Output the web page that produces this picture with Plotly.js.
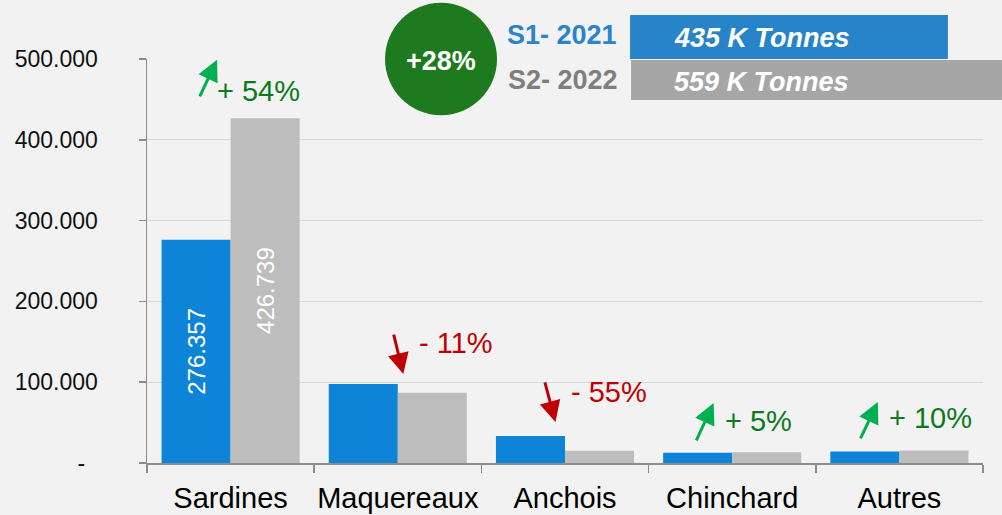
<!DOCTYPE html>
<html>
<head>
<meta charset="utf-8">
<script src="https://cdn.plot.ly/plotly-3.0.1.min.js"></script>
<style>
html,body{margin:0;padding:0;background:#F2F2F2;}
#chart{width:1002px;height:515px;}
</style>
</head>
<body>
<div id="chart"></div>
<script>
// ---- data ----
const categories = ["Sardines", "Maquereaux", "Anchois", "Chinchard", "Autres"];
const s1Name = "S1- 2021";
const s2Name = "S2- 2022";
const s1Values = [276357, 97800, 33500, 12800, 14200];
const s2Values = [426739, 87000, 15100, 13400, 15600];
const s1Labels = ["276.357", "", "", "", ""];
const s2Labels = ["426.739", "", "", "", ""];
const yTickVals = [0, 100000, 200000, 300000, 400000, 500000];
const yTickText = ["-\u00a0\u00a0", "100.000", "200.000", "300.000", "400.000", "500.000"];
const changeLabels = ["+ 54%", "- 11%", "- 55%", "+ 5%", "+ 10%"];
const s1Total = "435 K Tonnes";
const s2Total = "559 K Tonnes";
const totalChange = "+28%";

// ---- styles ----
const FONT = "Liberation Sans, Arial, sans-serif";
const BLUE = "#0E84D8";
const GREY = "#BDBDBD";
const UPGREEN = "#0B7A1A";
const UPARROW = "#00B050";
const DOWNRED = "#C00000";

const traces = [
  {
    type: "bar", name: s1Name, x: categories, y: s1Values,
    marker: {color: BLUE},
    text: s1Labels, textposition: "inside", insidetextanchor: "middle",
    textangle: -90, textfont: {family: FONT, size: 24, color: "#FFFFFF"},
    constraintext: "none", cliponaxis: false, hoverinfo: "skip"
  },
  {
    type: "bar", name: s2Name, x: categories, y: s2Values,
    marker: {color: GREY},
    text: s2Labels, textposition: "inside", insidetextanchor: "middle",
    textangle: -90, textfont: {family: FONT, size: 24, color: "#FFFFFF"},
    constraintext: "none", cliponaxis: false, hoverinfo: "skip"
  }
];

// arrow tip positions (category index offset, y value) and tail offsets in px
const arrowSpecs = [
  {x: -0.081, y: 499000, ax: -18, ay: 38, up: true},
  {x: 1.033, y: 110000, ax: -10, ay: -41, up: false},
  {x: 1.943, y: 50800, ax: -11, ay: -41, up: false},
  {x: 2.889, y: 74300, ax: -18, ay: 39, up: true},
  {x: 3.871, y: 75600, ax: -18, ay: 38, up: true}
];
const labelPos = [
  {x: 0.165, y: 460000},
  {x: 1.350, y: 148700},
  {x: 2.266, y: 88000},
  {x: 3.159, y: 52000},
  {x: 4.183, y: 55800}
];

const annotations = [];
arrowSpecs.forEach((a, i) => {
  annotations.push({
    xref: "x", yref: "y", x: a.x, y: a.y, ax: a.ax, ay: a.ay,
    axref: "pixel", ayref: "pixel",
    text: "", showarrow: true, arrowhead: 2, arrowsize: 1.4, arrowwidth: 3,
    arrowcolor: a.up ? UPARROW : DOWNRED, standoff: 0
  });
  annotations.push({
    xref: "x", yref: "y", x: labelPos[i].x, y: labelPos[i].y,
    text: changeLabels[i], showarrow: false,
    font: {family: FONT, size: 29, color: a.up ? UPGREEN : DOWNRED},
    xanchor: "center", yanchor: "middle"
  });
});

// header legend texts (paper coords)
annotations.push(
  {xref: "paper", yref: "paper", x: 0.3517, y: 0.995, text: "<b>" + totalChange + "</b>",
   showarrow: false, font: {family: FONT, size: 27, color: "#FFFFFF"}, xanchor: "center", yanchor: "middle"},
  {xref: "paper", yref: "paper", x: 0.4964, y: 1.0594, text: "<b>" + s1Name + "</b>",
   showarrow: false, font: {family: FONT, size: 27, color: "#2A84C8"}, xanchor: "center", yanchor: "middle"},
  {xref: "paper", yref: "paper", x: 0.4982, y: 0.948, text: "<b>" + s2Name + "</b>",
   showarrow: false, font: {family: FONT, size: 27, color: "#7F7F7F"}, xanchor: "center", yanchor: "middle"},
  {xref: "paper", yref: "paper", x: 0.7351, y: 1.052, text: "<b><i>" + s1Total + "</i></b>",
   showarrow: false, font: {family: FONT, size: 27, color: "#FFFFFF"}, xanchor: "center", yanchor: "middle"},
  {xref: "paper", yref: "paper", x: 0.7351, y: 0.943, text: "<b><i>" + s2Total + "</i></b>",
   showarrow: false, font: {family: FONT, size: 27, color: "#FFFFFF"}, xanchor: "center", yanchor: "middle"}
);

const shapes = [
  {type: "circle", xref: "paper", yref: "paper", x0: 0.2847, x1: 0.4187, y0: 0.861, y1: 1.139,
   fillcolor: "#1E7A1E", line: {width: 0}, layer: "above"},
  {type: "rect", xref: "paper", yref: "paper", x0: 0.5778, x1: 0.958, y0: 1.0, y1: 1.109,
   fillcolor: "#2784C8", line: {width: 0}, layer: "above"},
  {type: "rect", xref: "paper", yref: "paper", x0: 0.579, x1: 1.0227, y0: 0.8985, y1: 0.9975,
   fillcolor: "#A6A6A6", line: {width: 0}, layer: "above"}
];

const layout = {
  width: 1002, height: 515,
  margin: {l: 147, r: 19, t: 59, b: 52, pad: 0},
  paper_bgcolor: "#F2F2F2", plot_bgcolor: "#F2F2F2",
  barmode: "group", bargap: 0.174, bargroupgap: 0,
  showlegend: false,
  font: {family: FONT, color: "#000000"},
  xaxis: {
    type: "category", showline: true, linecolor: "#8C8C8C", linewidth: 1.5,
    ticks: "outside", tickson: "boundaries", ticklen: 8, tickcolor: "#8C8C8C", tickwidth: 1.5,
    tickangle: 0, ticklabelstandoff: 9,
    tickfont: {family: FONT, size: 29, color: "#000000"}, showgrid: false, fixedrange: true
  },
  yaxis: {
    range: [0, 500000], tickvals: yTickVals, ticktext: yTickText,
    showline: true, linecolor: "#8C8C8C", linewidth: 1.5,
    ticks: "outside", ticklen: 7, tickcolor: "#8C8C8C", tickwidth: 1.5,
    ticklabelstandoff: 36,
    tickfont: {family: FONT, size: 23, color: "#111111"},
    showgrid: true, gridcolor: "#D9D9D9", gridwidth: 1.3, zeroline: false, fixedrange: true
  },
  annotations: annotations,
  shapes: shapes
};

Plotly.newPlot("chart", traces, layout, {staticPlot: true, displayModeBar: false});
</script>
</body>
</html>
